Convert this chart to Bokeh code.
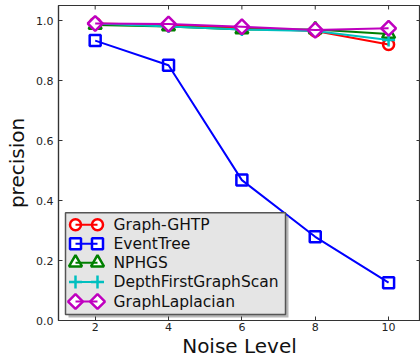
from bokeh.plotting import figure
from bokeh.models import Range1d, FixedTicker, NumeralTickFormatter
from bokeh.core.properties import value
from bokeh.embed import file_html
from bokeh.resources import INLINE

# Precision of each method at increasing noise levels
noise = [2, 4, 6, 8, 10]
graph_ghtp = [0.99, 0.985, 0.975, 0.965, 0.92]
event_tree = [0.933, 0.851, 0.468, 0.279, 0.126]
nphgs = [0.985, 0.98, 0.97, 0.97, 0.955]
depth_first = [0.99, 0.98, 0.97, 0.965, 0.935]
graph_laplacian = [0.99, 0.988, 0.979, 0.968, 0.974]
y_ticks = [0.0, 0.2, 0.4, 0.6, 0.8, 1.0]

series_names = ["Graph-GHTP", "EventTree", "NPHGS", "DepthFirstGraphScan", "GraphLaplacian"]
series_values = [graph_ghtp, event_tree, nphgs, depth_first, graph_laplacian]
series_colors = ["#ff0000", "#0000ff", "#008000", "#00bfbf", "#bf00bf"]
series_markers = ["circle", "square", "triangle", "cross", "square"]
series_sizes = [11, 11, 13, 13, 10.5]
series_angles = [0, 0, 0, 0, 0.785398]

FONT = value("DejaVu Sans")
SPINE = "#333333"

W, H = 420, 360
LEFT, TOP, BOTTOM = 58, 5, 39
FW, FH = W - LEFT, H - TOP - BOTTOM
TICK = 4

p = figure(width=W, height=H, output_backend="svg", toolbar_location=None,
           x_range=Range1d(1.0, 10.87), y_range=Range1d(0.0, 1.05),
           min_border_left=LEFT, min_border_top=TOP, min_border_bottom=BOTTOM,
           min_border_right=0, background_fill_color="white",
           border_fill_color="white")
p.grid.visible = False
p.outline_line_color = SPINE
p.outline_line_width = 1.2

# pixel-space ranges for the hand-built legend box and the mirrored ticks
p.extra_x_ranges = {"lx": Range1d(0, FW)}
p.extra_y_ranges = {"ly": Range1d(0, FH)}

for ax in (p.xaxis[0], p.yaxis[0]):
    ax.axis_line_color = SPINE
    ax.axis_line_width = 1.2
    ax.major_tick_in = TICK
    ax.major_tick_out = 0
    ax.major_tick_line_color = SPINE
    ax.minor_tick_line_color = None
    ax.major_label_text_font = "DejaVu Sans"
    ax.major_label_text_font_size = "11px"
    ax.major_label_text_color = "#222222"
    ax.axis_label_text_font = "DejaVu Sans"
    ax.axis_label_text_font_style = "normal"
    ax.axis_label_text_font_size = "20px"
    ax.axis_label_text_color = "#111111"

p.xaxis.ticker = FixedTicker(ticks=noise)
p.yaxis.ticker = FixedTicker(ticks=y_ticks)
p.yaxis.formatter = NumeralTickFormatter(format="0.0")
p.xaxis.axis_label = "Noise Level"
p.yaxis.axis_label = "precision"
p.xaxis.major_label_standoff = 2
p.xaxis.axis_label_standoff = 0
p.yaxis.major_label_standoff = 5
p.yaxis.axis_label_standoff = 4

# inward ticks on the top and right edges
p.segment(x0=noise, x1=noise, y0=[FH] * len(noise), y1=[FH - TICK] * len(noise),
          y_range_name="ly", line_color=SPINE, line_width=1)
p.segment(x0=[FW] * len(y_ticks), x1=[FW - TICK] * len(y_ticks), y0=y_ticks, y1=y_ticks,
          x_range_name="lx", line_color=SPINE, line_width=1)

# data lines, drawn over white-filled markers
for vals, col, mk, sz, ang in zip(series_values, series_colors, series_markers,
                                  series_sizes, series_angles):
    p.scatter(noise, vals, marker=mk, size=sz, angle=ang, fill_color="white",
              line_color=col, line_width=2.5)
    p.line(noise, vals, line_color=col, line_width=2)

# legend box with shadow
p.quad(left=10, right=230, bottom=3, top=105, x_range_name="lx", y_range_name="ly",
       fill_color="#888888", fill_alpha=0.6, line_color=None)
p.quad(left=7, right=227, bottom=6, top=108, x_range_name="lx", y_range_name="ly",
       fill_color="#e5e5e5", line_color="#555555", line_width=1.5)

row_y = [96, 77, 58, 38.5, 19]
for name, col, mk, sz, ang, ry in zip(series_names, series_colors, series_markers,
                                      series_sizes, series_angles, row_y):
    p.scatter([17, 39], [ry, ry], marker=mk, size=sz, angle=ang, fill_color="white",
              line_color=col, line_width=2.5, x_range_name="lx", y_range_name="ly")
    p.line([17, 39], [ry, ry], line_color=col, line_width=2,
           x_range_name="lx", y_range_name="ly")
    p.text([55], [ry], text=[name], text_font=FONT, text_font_size="15.5px",
           text_baseline="middle", text_align="left", text_color="#111111",
           x_range_name="lx", y_range_name="ly")

open("out.html", "w").write(file_html(p, INLINE))
